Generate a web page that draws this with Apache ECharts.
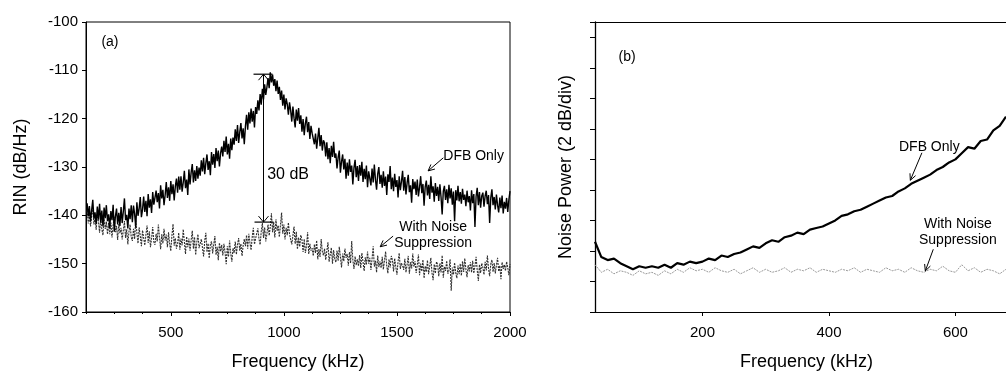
<!DOCTYPE html>
<html>
<head>
<meta charset="utf-8">
<script src="https://cdn.jsdelivr.net/npm/echarts@6/dist/echarts.min.js"></script>
<style>html,body{margin:0;padding:0;background:#fff}#c{width:1006px;height:376px}</style>
</head>
<body>
<div id="c"></div>
<script>
// ---------- Panel (a): RIN spectrum ----------
const freqStartA = 130, freqStepA = 5; // kHz sampling grid
const rinDfbOnly = [
-137.5,-140.2,-138.1,-141.3,-138.9,-136.8,-140.7,-139.4,-141.8,-138.2,
-140.9,-137.6,-141.5,-139.0,-142.3,-138.4,-140.6,-137.9,-141.2,-139.8,
-142.6,-139.1,-141.0,-137.8,-143.4,-140.2,-138.6,-141.9,-139.5,-142.2,
-138.3,-141.6,-139.2,-136.5,-141.0,-139.9,-142.7,-138.6,-140.8,-137.9,
-141.4,-138.0,-139.7,-142.5,-137.3,-140.1,-138.6,-136.2,-140.4,-138.8,
-136.1,-139.3,-137.0,-140.2,-135.6,-138.4,-136.7,-139.5,-135.2,-137.8,
-138.2,-134.9,-137.3,-135.4,-138.6,-133.8,-136.5,-134.7,-137.9,-135.8,
-133.1,-136.4,-134.2,-137.0,-132.9,-135.6,-133.6,-136.9,-134.0,-132.4,
-135.3,-132.0,-134.7,-131.9,-135.1,-133.2,-130.8,-134.4,-132.6,-135.8,
-130.5,-133.6,-131.1,-129.4,-133.2,-130.7,-132.9,-129.8,-132.4,-130.1,
-131.8,-128.6,-130.9,-128.1,-131.5,-129.2,-127.4,-130.6,-128.8,-131.7,
-126.9,-129.5,-127.3,-130.2,-126.1,-128.8,-126.6,-129.9,-127.2,-125.8,
-127.8,-124.6,-126.9,-123.7,-127.4,-125.2,-128.3,-124.1,-126.5,-123.9,
-125.4,-122.2,-124.6,-121.3,-125.0,-122.8,-120.9,-124.1,-122.0,-125.3,
-121.6,-119.2,-122.3,-118.7,-121.0,-117.9,-120.6,-118.4,-121.8,-117.6,
-119.0,-116.2,-118.3,-114.9,-117.1,-113.8,-116.0,-112.9,-115.1,-113.5,
-111.6,-113.7,-110.4,-112.5,-110.9,-113.2,-111.8,-114.3,-112.1,-114.9,
-113.4,-116.1,-114.2,-117.3,-115.0,-118.1,-115.8,-117.0,-119.2,-116.6,
-118.3,-120.6,-117.5,-119.9,-121.8,-118.1,-120.4,-117.8,-121.1,-119.3,
-122.7,-120.1,-123.4,-121.0,-119.6,-122.8,-120.7,-124.2,-121.5,-123.0,
-122.6,-125.3,-123.1,-126.2,-124.0,-121.9,-125.7,-123.4,-126.6,-124.5,
-125.0,-127.8,-124.9,-128.4,-126.1,-129.2,-125.6,-127.9,-124.8,-128.1,
-127.2,-130.3,-128.0,-126.6,-131.2,-128.9,-127.4,-130.5,-128.3,-132.4,
-129.1,-131.8,-128.4,-131.0,-129.7,-133.6,-130.2,-128.5,-132.1,-129.8,
-132.9,-129.6,-131.8,-128.9,-133.1,-130.4,-132.5,-129.7,-134.2,-130.9,
-131.1,-133.8,-130.3,-133.2,-129.5,-132.6,-134.7,-131.4,-130.0,-133.5,
-131.6,-134.3,-130.9,-133.9,-132.0,-135.8,-131.5,-133.1,-129.8,-134.6,
-132.2,-135.0,-131.4,-134.1,-132.7,-136.3,-131.9,-134.8,-133.0,-130.8,
-134.9,-132.1,-135.7,-133.3,-131.6,-135.2,-133.8,-137.4,-132.5,-134.6,
-133.0,-135.8,-132.6,-136.1,-134.2,-131.9,-135.4,-133.5,-138.0,-134.1,
-132.8,-135.9,-133.7,-136.6,-131.9,-135.3,-134.0,-137.2,-133.3,-136.0,
-134.1,-137.0,-133.6,-136.2,-139.8,-135.0,-133.9,-136.8,-134.6,-137.5,
-133.7,-136.5,-134.4,-137.8,-135.1,-141.2,-134.8,-136.9,-133.9,-137.1,
-135.2,-137.6,-134.5,-136.8,-135.7,-138.1,-134.9,-137.3,-136.0,-139.0,
-134.8,-137.5,-135.6,-142.4,-136.1,-134.3,-137.9,-135.2,-138.4,-136.0,
-135.3,-138.2,-136.0,-134.9,-137.7,-135.8,-141.6,-136.4,-134.6,-137.9,
-136.2,-138.8,-135.7,-137.9,-139.4,-136.3,-138.5,-135.9,-139.6,-137.2,
-138.6,-136.4,-139.3,-136.8,-135.0
];
const rinNoiseSupp = [
-139.0,-141.7,-139.6,-142.3,-140.1,-138.4,-141.9,-140.6,-143.0,-139.8,
-141.2,-143.6,-140.7,-142.9,-144.1,-140.5,-142.8,-141.3,-143.9,-141.6,
-143.9,-141.5,-144.6,-142.0,-140.3,-143.5,-142.2,-145.1,-141.8,-143.7,
-142.6,-145.0,-143.1,-141.2,-144.7,-142.9,-146.0,-143.4,-141.9,-144.5,
-145.3,-142.8,-144.9,-141.0,-143.6,-145.8,-142.5,-144.3,-146.4,-143.1,
-143.5,-146.2,-144.0,-142.1,-145.7,-143.3,-146.6,-144.8,-142.4,-145.5,
-146.1,-143.8,-145.4,-141.9,-144.6,-147.0,-143.9,-145.8,-142.8,-145.2,
-144.0,-146.6,-143.5,-145.9,-147.4,-144.2,-141.8,-146.3,-144.7,-146.9,
-145.9,-143.6,-147.1,-144.8,-146.2,-142.9,-145.5,-148.0,-144.4,-146.6,
-144.8,-147.3,-145.1,-143.2,-146.9,-144.5,-148.2,-145.6,-143.9,-146.8,
-147.2,-144.9,-146.7,-148.5,-145.3,-143.6,-147.6,-145.8,-148.9,-146.0,
-145.4,-147.9,-146.0,-144.3,-148.2,-146.5,-149.3,-145.7,-147.5,-146.1,
-148.3,-145.9,-147.7,-150.1,-146.4,-148.6,-145.2,-147.9,-149.6,-146.8,
-147.8,-145.4,-148.1,-146.0,-144.7,-147.3,-145.9,-148.4,-146.2,-144.9,
-146.4,-144.1,-146.9,-143.8,-145.7,-147.2,-144.5,-142.6,-146.0,-144.8,
-145.2,-142.7,-144.9,-146.1,-143.3,-141.6,-144.7,-142.5,-145.4,-143.8,
-141.9,-144.2,-142.3,-139.6,-143.5,-141.4,-144.6,-140.8,-143.2,-142.1,
-144.5,-142.0,-139.4,-143.8,-141.9,-145.0,-142.6,-144.1,-141.5,-143.9,
-143.6,-146.0,-144.2,-142.3,-145.9,-143.4,-147.0,-144.6,-146.5,-144.1,
-145.1,-147.6,-144.9,-147.8,-146.3,-143.5,-148.0,-145.9,-147.3,-146.8,
-148.4,-146.0,-147.8,-145.2,-149.1,-147.0,-148.6,-144.9,-147.5,-148.3,
-146.9,-149.2,-147.4,-145.6,-149.6,-148.1,-146.7,-150.0,-147.2,-149.0,
-149.7,-147.3,-149.4,-146.5,-148.6,-150.8,-147.9,-149.5,-146.9,-148.8,
-148.0,-150.4,-147.6,-149.9,-145.3,-149.2,-151.1,-148.5,-150.3,-149.1,
-150.5,-148.2,-150.9,-147.8,-149.6,-151.5,-148.7,-150.2,-147.5,-150.0,
-148.8,-151.3,-149.0,-146.4,-150.6,-149.4,-151.8,-148.3,-150.7,-149.5,
-150.9,-148.6,-151.2,-149.3,-147.5,-150.5,-152.0,-149.1,-150.8,-148.4,
-149.2,-151.6,-148.9,-150.7,-152.3,-149.5,-147.8,-151.1,-149.9,-150.4,
-151.3,-149.0,-151.8,-150.2,-148.4,-152.1,-149.7,-151.0,-147.9,-150.6,
-149.5,-151.9,-150.3,-148.1,-152.4,-150.0,-151.6,-149.2,-153.0,-150.5,
-151.7,-149.3,-152.2,-150.5,-148.8,-151.9,-153.4,-150.1,-152.0,-149.6,
-150.2,-152.6,-149.9,-151.8,-148.3,-152.9,-150.6,-151.5,-149.4,-152.1,
-151.4,-149.1,-155.6,-150.8,-152.3,-149.8,-151.9,-153.0,-150.4,-152.2,
-150.0,-152.5,-149.5,-151.7,-148.9,-151.2,-152.8,-150.3,-151.6,-149.7,
-151.8,-149.4,-152.0,-150.5,-148.6,-151.3,-153.6,-150.2,-151.9,-149.9,
-150.8,-152.3,-149.6,-151.4,-148.3,-151.0,-152.6,-150.1,-149.2,-151.7,
-149.9,-152.0,-150.3,-148.8,-151.6,-150.4,-153.2,-149.7,-151.1,-150.2,
-151.5,-149.6,-150.8,-152.4,-150.1
];
const xTicksA = [500, 1000, 1500, 2000];
const xMinorStepA = 125;

// ---------- Panel (b): noise power (2 dB/div) ----------
const freqStartB = 30, freqStepB = 10;
const powDfbOnly = [
4.6,3.6,3.4,3.5,3.2,3.0,2.8,3.0,2.9,3.0,
2.9,3.1,2.9,3.2,3.1,3.3,3.2,3.3,3.5,3.4,
3.7,3.6,3.8,3.9,4.1,4.3,4.2,4.5,4.7,4.6,
4.9,5.0,5.2,5.1,5.4,5.5,5.6,5.8,6.0,6.3,
6.4,6.6,6.7,6.9,7.1,7.3,7.5,7.6,7.9,8.1,
8.4,8.6,8.8,9.0,9.3,9.5,9.8,10.0,10.4,10.8,
10.7,11.2,11.3,11.9,12.2,12.8
];
const powNoiseSupp = [
3.1,2.6,2.8,2.5,2.7,2.6,2.4,2.7,2.5,2.6,
2.4,2.7,2.5,2.8,2.6,2.9,2.7,2.8,2.6,2.9,
2.7,2.6,2.8,2.5,2.7,2.9,2.6,2.8,2.6,2.7,
2.9,2.6,2.8,2.7,2.9,2.6,2.8,2.7,2.6,2.8,
2.7,2.9,2.6,2.8,2.7,2.6,2.9,2.7,2.8,2.6,
2.9,2.7,2.6,2.8,2.7,3.0,2.7,2.6,3.1,2.7,
2.9,2.6,2.8,2.7,2.5,2.8
];
const xTicksB = [200, 400, 600];

// ---------- Annotations (data coordinates) ----------
const annA = {
  tag: {text: '(a)', at: [231, -104.2]},
  gap: {x: 910, top: -110.8, bottom: -141.4, text: '30 dB', textAt: [926, -131.5]},
  dfb: {text: 'DFB Only', at: [1705, -127.7], tail: [1705, -128.1], head: [1638, -130.8]},
  sup: {text: 'With Noise\nSuppression', at: [1660, -144.0], tail: [1483, -144.3], head: [1426, -146.5]}
};
const annB = {
  tag: {text: '(b)', at: [80.7, 16.7]},
  dfb: {text: 'DFB Only', at: [558.7, 10.8], tail: [547, 10.43], head: [528.7, 8.63]},
  sup: {text: 'With Noise\nSuppression', at: [603.9, 5.24], tail: [565, 4.11], head: [552.4, 2.69]}
};

function pairs(start, step, vals) { return vals.map((v, i) => [start + i * step, v]); }
const plain = v => String(v);

const FONT = "'Liberation Sans', Arial, Helvetica, sans-serif";
const chart = echarts.init(document.getElementById('c'), null, {renderer: 'canvas'});

const option = {
  animation: false,
  backgroundColor: '#fff',
  textStyle: {fontFamily: FONT, color: '#000'},
  grid: [
    {left: 86, right: 496, top: 22, bottom: 60, show: true, borderColor: '#000', borderWidth: 1, backgroundColor: 'transparent'},
    {left: 595, right: 0, top: 22, bottom: 59, show: false}
  ],
  xAxis: [
    {type: 'value', gridIndex: 0, min: 125, max: 2000, position: 'bottom',
     splitLine: {show: false},
     axisLine: {lineStyle: {color: '#000', width: 1}},
     axisTick: {customValues: xTicksA, length: 4, lineStyle: {color: '#000'}},
     axisLabel: {customValues: xTicksA, formatter: plain, color: '#000', fontSize: 15, fontFamily: FONT, margin: 13},
     name: 'Frequency (kHz)', nameLocation: 'middle', nameGap: 41,
     nameTextStyle: {fontSize: 18, fontFamily: FONT, color: '#000'}},
    {type: 'value', gridIndex: 0, min: 125, max: 2000, interval: xMinorStepA, position: 'bottom',
     splitLine: {show: false}, axisLine: {show: false},
     axisTick: {length: 2, lineStyle: {color: '#000'}}, axisLabel: {show: false}},
    {type: 'value', gridIndex: 1, min: 30, max: 680, position: 'bottom',
     splitLine: {show: false},
     axisLine: {lineStyle: {color: '#000', width: 1}},
     axisTick: {customValues: xTicksB, length: 4, lineStyle: {color: '#000'}},
     axisLabel: {customValues: xTicksB, formatter: plain, color: '#000', fontSize: 15, fontFamily: FONT, margin: 13},
     name: 'Frequency (kHz)', nameLocation: 'middle', nameGap: 41,
     nameTextStyle: {fontSize: 18, fontFamily: FONT, color: '#000', padding: [0, 0, 0, 12]}},
    {type: 'value', gridIndex: 1, min: 30, max: 680, position: 'top',
     splitLine: {show: false},
     axisLine: {lineStyle: {color: '#000', width: 1}},
     axisTick: {show: false}, axisLabel: {show: false}}
  ],
  yAxis: [
    {type: 'value', gridIndex: 0, min: -160, max: -100, interval: 10,
     splitLine: {show: false},
     axisLine: {lineStyle: {color: '#000', width: 1}},
     axisTick: {length: 4, lineStyle: {color: '#000'}},
     axisLabel: {formatter: plain, color: '#000', fontSize: 15, fontFamily: FONT, margin: 8},
     name: 'RIN (dB/Hz)', nameLocation: 'middle', nameGap: 56,
     nameTextStyle: {fontSize: 18, fontFamily: FONT, color: '#000'}},
    {type: 'value', gridIndex: 1, min: 0, max: 19, interval: 2,
     splitLine: {show: false},
     axisLine: {lineStyle: {color: '#000', width: 1.3}},
     axisTick: {length: 5, lineStyle: {color: '#000'}},
     axisLabel: {show: false},
     name: 'Noise Power (2 dB/div)', nameLocation: 'middle', nameGap: 20,
     nameTextStyle: {fontSize: 18, fontFamily: FONT, color: '#000'}}
  ],
  series: [
    {type: 'line', xAxisIndex: 0, yAxisIndex: 0, data: pairs(freqStartA, freqStepA, rinNoiseSupp),
     showSymbol: false, lineStyle: {color: '#2e2e2e', width: 1.1, type: [2, 1]}, z: 2},
    {type: 'line', xAxisIndex: 0, yAxisIndex: 0, data: pairs(freqStartA, freqStepA, rinDfbOnly),
     showSymbol: false, lineStyle: {color: '#000', width: 1.4}, z: 3},
    {type: 'line', xAxisIndex: 2, yAxisIndex: 1, data: pairs(freqStartB, freqStepB, powNoiseSupp),
     showSymbol: false, lineStyle: {color: '#9a9a9a', width: 1, type: [2, 1]}, z: 2},
    {type: 'line', xAxisIndex: 2, yAxisIndex: 1, data: pairs(freqStartB, freqStepB, powDfbOnly),
     showSymbol: false, lineStyle: {color: '#000', width: 2.2}, z: 3}
  ]
};
chart.setOption(option);

// ---------- build annotation graphics from data coordinates ----------
function px(gridIndex, pt) { return chart.convertToPixel({gridIndex: gridIndex}, pt); }
function textEl(p, text, size, align) {
  return {type: 'text', x: p[0], y: p[1], z: 20,
    style: {text: text, font: size + 'px ' + FONT, fill: '#000', align: align || 'left', verticalAlign: 'middle', lineHeight: size + 2}};
}
function arrowEls(t, h) {
  const dx = h[0] - t[0], dy = h[1] - t[1];
  const L = Math.sqrt(dx * dx + dy * dy), ux = dx / L, uy = dy / L;
  const a = 0.45, len = 7;
  const c = Math.cos(a), s = Math.sin(a);
  const b1 = [h[0] - len * (ux * c - uy * s), h[1] - len * (uy * c + ux * s)];
  const b2 = [h[0] - len * (ux * c + uy * s), h[1] - len * (uy * c - ux * s)];
  return [
    {type: 'line', z: 20, shape: {x1: t[0], y1: t[1], x2: h[0], y2: h[1]}, style: {stroke: '#000', lineWidth: 1}},
    {type: 'polyline', z: 20, shape: {points: [b1, h, b2]}, style: {stroke: '#000', lineWidth: 1, fill: null}}
  ];
}
const g = [];
// panel a
g.push(textEl(px(0, annA.tag.at), annA.tag.text, 14, 'center'));
const gt = px(0, [annA.gap.x, annA.gap.top]), gb = px(0, [annA.gap.x, annA.gap.bottom]);
g.push({type: 'line', z: 20, shape: {x1: gt[0], y1: gt[1], x2: gb[0], y2: gb[1]}, style: {stroke: '#000', lineWidth: 1}});
g.push({type: 'line', z: 20, shape: {x1: gt[0] - 10, y1: gt[1], x2: gt[0] + 9, y2: gt[1]}, style: {stroke: '#000', lineWidth: 1.2}});
g.push({type: 'line', z: 20, shape: {x1: gb[0] - 9, y1: gb[1], x2: gb[0] + 10, y2: gb[1]}, style: {stroke: '#000', lineWidth: 1.2}});
g.push({type: 'polyline', z: 20, shape: {points: [[gt[0] - 5, gt[1] + 6], [gt[0], gt[1]], [gt[0] + 5, gt[1] + 6]]}, style: {stroke: '#000', lineWidth: 1, fill: null}});
g.push({type: 'polyline', z: 20, shape: {points: [[gb[0] - 5, gb[1] - 6], [gb[0], gb[1]], [gb[0] + 5, gb[1] - 6]]}, style: {stroke: '#000', lineWidth: 1, fill: null}});
g.push(textEl(px(0, annA.gap.textAt), annA.gap.text, 16));
g.push(textEl(px(0, annA.dfb.at), annA.dfb.text, 14));
arrowEls(px(0, annA.dfb.tail), px(0, annA.dfb.head)).forEach(e => g.push(e));
g.push(textEl(px(0, annA.sup.at), annA.sup.text, 14, 'center'));
arrowEls(px(0, annA.sup.tail), px(0, annA.sup.head)).forEach(e => g.push(e));
// panel b
g.push(textEl(px(1, annB.tag.at), annB.tag.text, 14, 'center'));
g.push(textEl(px(1, annB.dfb.at), annB.dfb.text, 14, 'center'));
arrowEls(px(1, annB.dfb.tail), px(1, annB.dfb.head)).forEach(e => g.push(e));
g.push(textEl(px(1, annB.sup.at), annB.sup.text, 14, 'center'));
arrowEls(px(1, annB.sup.tail), px(1, annB.sup.head)).forEach(e => g.push(e));
chart.setOption({graphic: g});
</script>
</body>
</html>
